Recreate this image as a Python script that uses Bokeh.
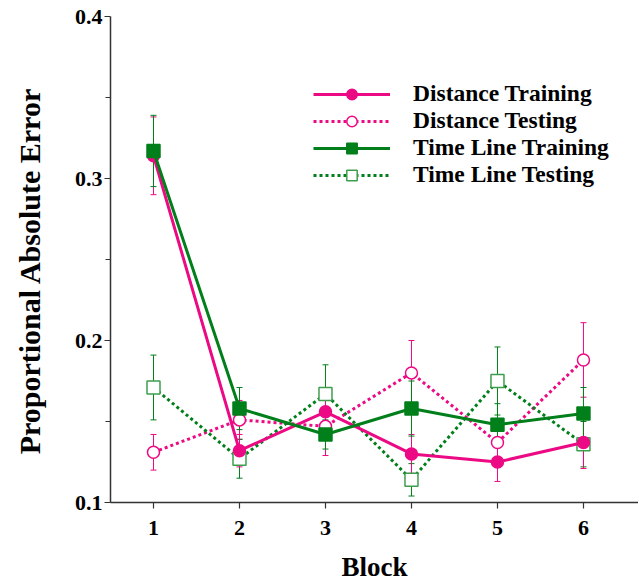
from bokeh.plotting import figure
from bokeh.models import (ColumnDataSource, Whisker, TeeHead, Legend, LegendItem,
                          FixedTicker, Range1d)
from bokeh.embed import file_html
from bokeh.resources import INLINE

blocks = [1, 2, 3, 4, 5, 6]
dist_train = [0.314, 0.132, 0.156, 0.130, 0.125, 0.137]
dist_train_err = [0.024, 0.010, 0.014, 0.012, 0.012, 0.016]
dist_test = [0.131, 0.151, 0.147, 0.180, 0.137, 0.188]
dist_test_err = [0.011, 0.012, 0.018, 0.020, 0.014, 0.023]
tl_train = [0.317, 0.158, 0.142, 0.158, 0.148, 0.155]
tl_train_err = [0.022, 0.013, 0.009, 0.017, 0.013, 0.016]
tl_test = [0.171, 0.127, 0.167, 0.114, 0.175, 0.136]
tl_test_err = [0.020, 0.012, 0.018, 0.010, 0.021, 0.014]

labels = ["Distance Training", "Distance Testing", "Time Line Training", "Time Line Testing"]

PINK = "#EC0A84"
GREEN = "#007F1A"
GREEN_LIGHT = "#3E9E4E"
FONT = "Liberation Serif"

p = figure(width=638, height=584, output_backend="svg", toolbar_location=None,
           x_range=Range1d(0.5, 6.64), y_range=Range1d(0.1, 0.4),
           min_border_left=110, min_border_top=16, min_border_bottom=80,
           min_border_right=0)
p.outline_line_color = None
p.grid.grid_line_color = None
p.background_fill_color = "white"

def src(x, y, e):
    return ColumnDataSource(dict(x=x, y=y,
                                 upper=[a + b for a, b in zip(y, e)],
                                 lower=[a - b for a, b in zip(y, e)]))

series = [
    (dist_test, dist_test_err, PINK, PINK, "dotted", "circle", False),
    (tl_test, tl_test_err, GREEN, GREEN_LIGHT, "dotted", "square", False),
    (dist_train, dist_train_err, PINK, PINK, "solid", "circle", True),
    (tl_train, tl_train_err, GREEN, GREEN, "solid", "square", True),
]
names = [labels[1], labels[3], labels[0], labels[2]]

# error bars first
for ys, es, col, mcol, dash, mk, filled in series:
    s = src(blocks, ys, es)
    w = Whisker(source=s, base="x", upper="upper", lower="lower",
                line_color=col, line_width=1,
                upper_head=TeeHead(size=6, line_color=col, line_width=1),
                lower_head=TeeHead(size=6, line_color=col, line_width=1))
    p.add_layout(w)

items = {}
for (ys, es, col, mcol, dash, mk, filled), name in zip(series, names):
    s = src(blocks, ys, es)
    lr = p.line("x", "y", source=s, line_color=col, line_width=3,
                line_dash="solid" if dash == "solid" else "3 3")
    size = 12 if mk == "circle" else 13
    sr = p.scatter("x", "y", source=s, marker=mk, size=size,
                   fill_color=mcol if filled else "white",
                   line_color=mcol, line_width=1.5)
    items[name] = [lr, sr]

legend = Legend(items=[LegendItem(label=n, renderers=items[n]) for n in labels],
                location=(203, 314), padding=0, margin=0, spacing=0,
                glyph_width=77, glyph_height=26, label_height=26,
                label_standoff=23, border_line_color=None,
                background_fill_alpha=0,
                label_text_font=FONT, label_text_font_style="bold",
                label_text_font_size="23.5px", label_text_color="black")
p.add_layout(legend)

# axes
p.xaxis.ticker = FixedTicker(ticks=blocks)
p.yaxis.ticker = FixedTicker(ticks=[0.1, 0.2, 0.3, 0.4],
                             minor_ticks=[0.15, 0.25, 0.35])
p.yaxis.formatter.use_scientific = False
for ax in (p.xaxis[0], p.yaxis[0]):
    ax.axis_line_color = "#333333"
    ax.axis_line_width = 1.5
    ax.major_tick_line_color = "#333333"
    ax.major_tick_line_width = 1.2
    ax.major_tick_in = 0
    ax.major_tick_out = 6
    ax.minor_tick_in = 0
    ax.minor_tick_out = 5
    ax.minor_tick_line_color = "#333333"
    ax.major_label_text_font = FONT
    ax.major_label_text_font_style = "bold"
    ax.major_label_text_font_size = "22px"
    ax.major_label_text_color = "black"
    ax.axis_label_text_font = FONT
    ax.axis_label_text_font_style = "bold"
    ax.axis_label_text_color = "black"
p.xaxis.axis_label_text_font_size = "27px"
p.yaxis.axis_label_text_font_size = "30px"
p.xaxis.minor_tick_line_color = None
p.xaxis.axis_label = "Block"
p.yaxis.axis_label = "Proportional Absolute Error\u00a0\u00a0\u00a0"
p.xaxis.major_label_standoff = 12
p.xaxis.axis_label_standoff = 14
p.yaxis.major_label_standoff = 2
p.yaxis.axis_label_standoff = 26

open("out.html", "w").write(file_html(p, INLINE))
